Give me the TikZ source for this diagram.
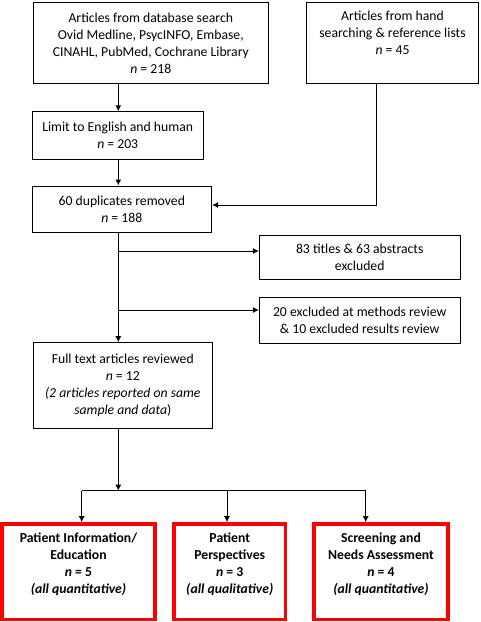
\documentclass[tikz,border=0pt]{standalone}
\usepackage{fontspec}
\setmainfont{Carlito}
\usepackage{color}
\usetikzlibrary{arrows.meta}
\definecolor{boxred}{RGB}{255,0,0}

\begin{document}
\begin{tikzpicture}[x=1pt,y=-1pt,>={Latex[length=6pt,width=6pt]}]
      \tikzstyle{box}=[draw,line width=0.9pt,align=center,inner sep=0pt,font=\fontsize{13.7}{17}\selectfont]
      \tikzstyle{result}=[draw=boxred,line width=3.5pt,inner sep=0pt,font=\fontsize{13.7}{17}\selectfont\bfseries]
      \tikzstyle{link}=[->,line width=1pt]
      \useasboundingbox (0,0) rectangle (480,622);
      \node[box,minimum width=235pt,minimum height=80.6pt] (search) at (150.8,43) {Articles from database search\\ Ovid Medline, PsycINFO, Embase,\\ CINAHL, PubMed, Cochrane Library\\ \textit{n} = 218};
      \node[box,minimum width=171.6pt,minimum height=80.6pt] (hand) at (392.5,43) {\parbox[c][64pt][t]{165pt}{\centering Articles from hand\\ searching \& reference lists\\ \textit{n} = 45}};
      \node[box,minimum width=171.3pt,minimum height=47.6pt] (limit) at (117.7,135.5) {Limit to English and human\\ \textit{n} = 203};
      \node[box,minimum width=179.7pt,minimum height=46.7pt] (dup) at (121.8,209.3) {60 duplicates removed\\ \textit{n} = 188};
      \node[box,minimum width=200.7pt,minimum height=44.3pt] (titles) at (359.7,257.2) {83 titles \& 63 abstracts\\ excluded};
      \node[box,minimum width=200.7pt,minimum height=46pt] (methods) at (359.7,320.3) {20 excluded at methods review\\ \& 10 excluded results review};
      \node[box,minimum width=179pt,minimum height=85.7pt] (full) at (122.8,385.5) {Full text articles reviewed\\ \textit{n} = 12\\ \textit{(2 articles reported on same}\\ \textit{sample and data})};
      \node[result,minimum width=153pt,minimum height=95.7pt] (edu) at (78.5,571.8) {\parbox[c][78pt][t]{145pt}{\centering Patient Information/\\ Education\\ \textit{n} = 5\\ \textit{(all quantitative)}}};
      \node[result,minimum width=111.5pt,minimum height=95.7pt] (persp) at (229.75,571.8) {\parbox[c][78pt][t]{105pt}{\centering Patient\\ Perspectives\\ \textit{n} = 3\\ \textit{(all qualitative)}}};
      \node[result,minimum width=134pt,minimum height=95.7pt] (needs) at (381,571.8) {\parbox[c][78pt][t]{128pt}{\centering Screening and\\ Needs Assessment\\ \textit{n} = 4\\ \textit{(all quantitative)}}};
      \coordinate (b1) at (118.3,251);
      \coordinate (b2) at (118.3,310);
      \coordinate (bus) at (118.3,490.7);
      \coordinate (busL) at (81.7,490.7);
      \coordinate (busM) at (227,490.7);
      \coordinate (busR) at (365.7,490.7);
      \draw[link] (search.south -| b1) -- (limit.north -| b1);
      \draw[link] (limit.south -| b1) -- (dup.north -| b1);
      \draw[link] ([xshift=-15.8pt]hand.south) |- ([yshift=4.3pt]dup.east);
      \draw[link] (dup.south -| b1) -- (full.north -| b1);
      \draw[link] (b1) -- (b1 -| titles.west);
      \draw[link] (b2) -- (b2 -| methods.west);
      \draw[link] (full.south -| bus) -- (bus);
      \draw[line width=1pt] (busL) -- (busR);
      \draw[link] (busL) -- (busL |- edu.north);
      \draw[link] (busM) -- (busM |- persp.north);
      \draw[link] (busR) -- (busR |- needs.north);
\end{tikzpicture}
\end{document}
